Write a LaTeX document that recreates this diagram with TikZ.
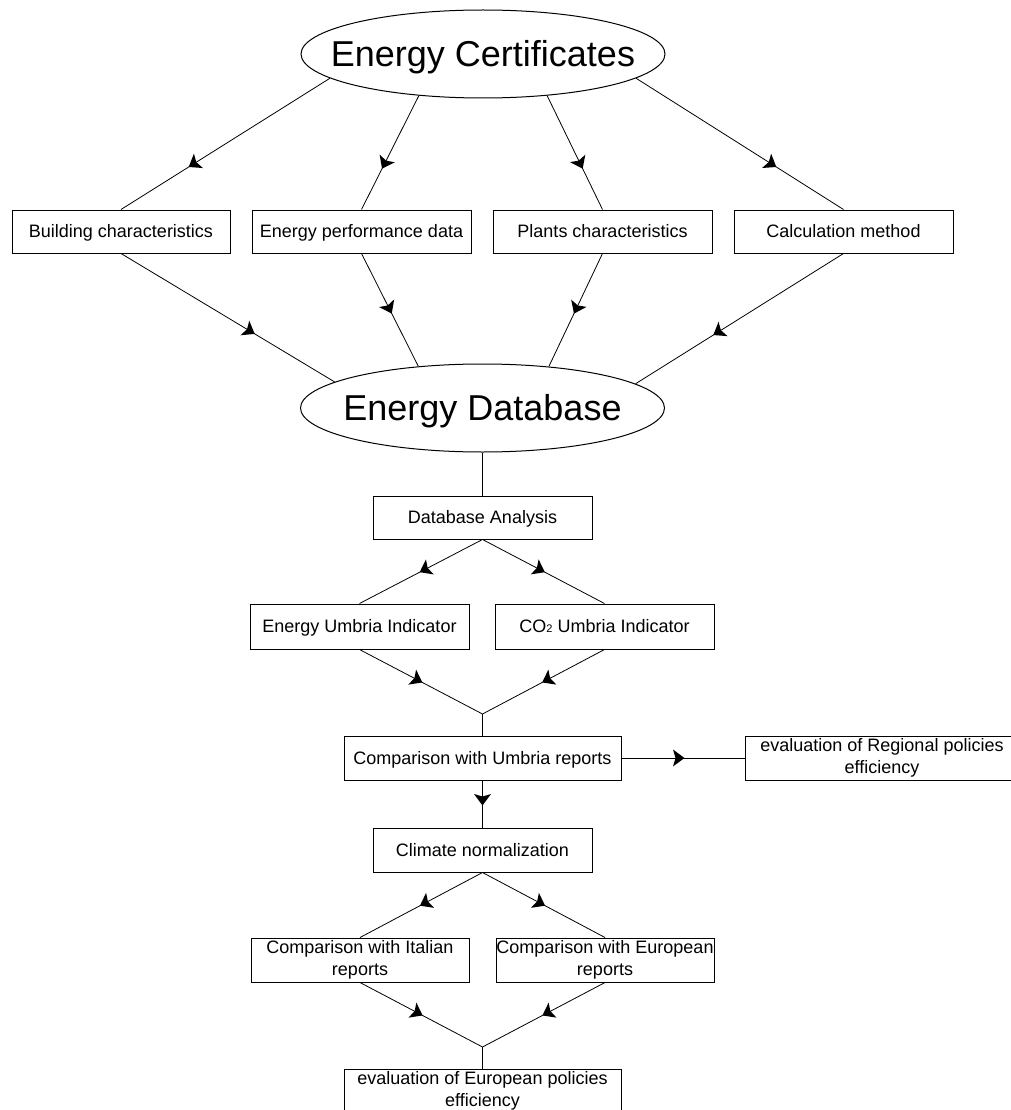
\documentclass[tikz,border=0pt]{standalone}
\usepackage{fontspec}
\setmainfont{Liberation Sans}
\usetikzlibrary{shapes.geometric,arrows.meta,decorations.markings}
\tikzset{
  box/.style={draw, line width=1pt, inner sep=0pt, font=\fontsize{18}{22}\selectfont, text height=12.9pt, text depth=0pt},
  boxtwo/.style={draw, line width=1pt, inner sep=0pt, align=center, font=\fontsize{18}{22}\selectfont},
  oval/.style={draw, line width=1pt, ellipse, inner sep=0pt, minimum width=364pt, minimum height=88pt, font=\fontsize{36}{40}\selectfont, text height=25.8pt, text depth=0pt},
  conn/.style={line width=0.8pt},
  midarr/.style={postaction={decorate}, decoration={markings, mark=at position #1 with {\fill (1.5pt,0pt) -- (-10pt,-8.5pt) -- (-7.5pt,0pt) -- (-10pt,8.5pt) -- cycle;}}}
}
\begin{document}
\begin{tikzpicture}[x=1pt,y=-1pt]
\useasboundingbox (0,0) rectangle (1011,1110);
\clip (0,0) rectangle (1011,1110);
% ellipses
\node[oval] (ec) at (483,54) {\makebox[0pt]{Energy Certificates}};
\node[oval] (ed) at (482.5,408) {\makebox[0pt]{Energy Database}};
% first row
\node[box, minimum width=218pt, minimum height=43pt] (bc) at (121,231.5) {Building characteristics};
\node[box, minimum width=219pt, minimum height=43pt] (ep) at (361.5,231.5) {Energy performance data};
\node[box, minimum width=219pt, minimum height=43pt] (pc) at (602.5,231.5) {Plants characteristics};
\node[box, minimum width=219pt, minimum height=43pt] (cm) at (843.5,231.5) {Calculation method};
% analysis
\node[box, minimum width=219pt, minimum height=43pt] (da) at (482.5,517.5) {Database Analysis};
\node[box, minimum width=219pt, minimum height=45pt] (eui) at (359.5,626.5) {Energy Umbria Indicator};
\node[box, minimum width=219pt, minimum height=45pt] (co) at (604.5,626.5) {CO{\fontsize{11}{12}\selectfont 2} Umbria Indicator};
\coordinate (j1) at (482.5,714);
\node[box, minimum width=277pt, minimum height=44pt] (cu) at (482.5,758) {Comparison with Umbria reports};
\node[boxtwo, minimum width=274pt, minimum height=44pt] (re) at (882,758) {evaluation of Regional policies\\efficiency};
\node[box, minimum width=219pt, minimum height=44pt] (cn) at (482.5,850) {Climate normalization};
\node[boxtwo, minimum width=218pt, minimum height=44pt] (it) at (360,960) {Comparison with Italian\\reports};
\node[boxtwo, minimum width=218pt, minimum height=44pt] (eu) at (605,960) {Comparison with European\\reports};
\coordinate (j2) at (482.5,1047);
\node[boxtwo, minimum width=277pt, minimum height=44pt] (epe) at (482.5,1091) {evaluation of European policies\\efficiency};
% connectors
\draw[conn, midarr=0.67] (ec.189.3) -- (bc.north);
\draw[conn, midarr=0.63] (ec.213.5) -- (ep.north);
\draw[conn, midarr=0.63] (ec.-33.5) -- (pc.north);
\draw[conn, midarr=0.67] (ec.-9.3) -- (cm.north);
\draw[conn, midarr=0.62] (bc.south) -- (ed.170.8);
\draw[conn, midarr=0.52] (ep.south) -- (ed.147.4);
\draw[conn, midarr=0.52] (pc.south) -- (ed.32.6);
\draw[conn, midarr=0.62] (cm.south) -- (ed.9.2);
\draw[conn] (ed.south) -- (da.north);
\draw[conn, midarr=0.5] (da.south) -- (eui.north);
\draw[conn, midarr=0.5] (da.south) -- (co.north);
\draw[conn, midarr=0.5] (eui.south) -- (j1);
\draw[conn, midarr=0.5] (co.south) -- (j1);
\draw[conn] (j1) -- (cu.north);
\draw[conn, midarr=0.5] (cu.east) -- (re.west);
\draw[conn, midarr=0.5] (cu.south) -- (cn.north);
\draw[conn, midarr=0.5] (cn.south) -- (it.north);
\draw[conn, midarr=0.5] (cn.south) -- (eu.north);
\draw[conn, midarr=0.5] (it.south) -- (j2);
\draw[conn, midarr=0.5] (eu.south) -- (j2);
\draw[conn] (j2) -- (epe.north);
\end{tikzpicture}
\end{document}
